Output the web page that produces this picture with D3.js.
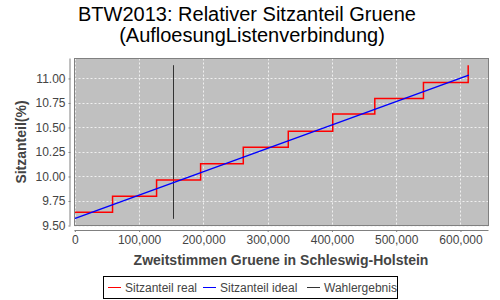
<!DOCTYPE html>
<html><head><meta charset="utf-8">
<script src="https://cdn.jsdelivr.net/npm/d3@7"></script>
<style>body{margin:0;background:#fff}svg{display:block}</style>
</head><body>
<script>
// Data
const realVotes = [-500, 58700, 127200, 195700, 262100, 332100, 401300, 466700, 542400, 612000];
const realShare = [9.636, 9.799, 9.965, 10.131, 10.298, 10.461, 10.637, 10.796, 10.959, 11.135];
const idealVotes = [-500, 613000];
const idealShare = [9.570, 11.034];
const resultVotes = [153100, 153100];
const resultShare = [9.568, 11.135];
const xTicks = [0, 100000, 200000, 300000, 400000, 500000, 600000];
const yTicks = [9.50, 9.75, 10.00, 10.25, 10.50, 10.75, 11.00];
const titleLines = ["BTW2013: Relativer Sitzanteil Gruene", "(AufloesungListenverbindung)"];
const legendItems = [
  {label: "Sitzanteil real", color: "#ff0000"},
  {label: "Sitzanteil ideal", color: "#0000ff"},
  {label: "Wahlergebnis", color: "#333333"}
];

const W = 500, H = 300;
const plot = {left: 74.5, right: 488.5, top: 58.5, bottom: 225.5};
const svg = d3.select("body").append("svg").attr("width", W).attr("height", H);
const font = "'Liberation Sans', Arial, sans-serif";

const x = d3.scaleLinear().domain([-500, 643600]).range([plot.left, plot.right]);
const y = d3.scaleLinear().domain([9.5, 11.2035]).range([plot.bottom, plot.top]);

// Title
svg.selectAll("text.title").data(titleLines).join("text")
  .attr("class", "title")
  .attr("x", (d, i) => i === 0 ? 247 : 252)
  .attr("y", (d, i) => i === 0 ? 21 : 42)
  .attr("text-anchor", "middle")
  .attr("font-family", font)
  .attr("font-size", 20)
  .attr("fill", "#000")
  .text(d => d);

// Plot background
svg.append("rect").attr("x", plot.left).attr("y", plot.top)
  .attr("width", plot.right - plot.left).attr("height", plot.bottom - plot.top)
  .attr("fill", "#c0c0c0");

// Gridlines
const grid = svg.append("g");
grid.selectAll("line.vx").data(xTicks).join("line")
  .attr("x1", d => Math.round(x(d)) + 0.5).attr("x2", d => Math.round(x(d)) + 0.5)
  .attr("y1", plot.top).attr("y2", plot.bottom)
  .attr("stroke", "#f0f0f0").attr("stroke-width", 1).attr("stroke-dasharray", "2,2");
grid.selectAll("line.hy").data(yTicks).join("line")
  .attr("y1", d => Math.round(y(d)) + 0.5).attr("y2", d => Math.round(y(d)) + 0.5)
  .attr("x1", plot.left).attr("x2", plot.right)
  .attr("stroke", "#f0f0f0").attr("stroke-width", 1).attr("stroke-dasharray", "2,2");

// Clip
svg.append("clipPath").attr("id", "clip").append("rect")
  .attr("x", plot.left).attr("y", plot.top)
  .attr("width", plot.right - plot.left).attr("height", plot.bottom - plot.top);
const g = svg.append("g").attr("clip-path", "url(#clip)");

// Series
const realData = realVotes.map((v, i) => [v, realShare[i]]);
const idealData = idealVotes.map((v, i) => [v, idealShare[i]]);
const resultData = resultVotes.map((v, i) => [v, resultShare[i]]);

g.append("path").datum(resultData)
  .attr("d", d3.line().x(d => Math.round(x(d[0])) + 0.5).y(d => y(d[1])))
  .attr("fill", "none").attr("stroke", "#333333").attr("stroke-width", 1);

g.append("path").datum(realData)
  .attr("d", d3.line().curve(d3.curveStepAfter).x(d => x(d[0])).y(d => y(d[1])))
  .attr("fill", "none").attr("stroke", "#ff0000").attr("stroke-width", 1.5);

g.append("path").datum(idealData)
  .attr("d", d3.line().x(d => x(d[0])).y(d => y(d[1])))
  .attr("fill", "none").attr("stroke", "#0000ff").attr("stroke-width", 1.5);

// Plot border
svg.append("rect").attr("x", plot.left).attr("y", plot.top)
  .attr("width", plot.right - plot.left).attr("height", plot.bottom - plot.top)
  .attr("fill", "none").attr("stroke", "#808080").attr("stroke-width", 1);

// Axes
const xAxis = d3.axisBottom(x).tickValues(xTicks).tickSize(2).tickPadding(3)
  .tickFormat(d3.format(",.0f"));
const gx = svg.append("g").attr("transform", `translate(0,${plot.bottom + 4.5})`).call(xAxis);
gx.select(".domain").attr("stroke", "#808080").attr("d", `M${plot.left},0.5H${plot.right}`);
gx.selectAll(".tick line").attr("stroke", "#808080");
gx.selectAll("text").attr("font-family", font).attr("font-size", 12).attr("fill", "#444");

const yAxis = d3.axisLeft(y).tickValues(yTicks).tickSize(2).tickPadding(3)
  .tickFormat(d3.format(".2f"));
const gy = svg.append("g").attr("transform", `translate(${plot.left - 4},0)`).call(yAxis);
gy.select(".domain").attr("stroke", "#808080").attr("d", `M-0.5,${plot.top}V${plot.bottom}`);
gy.selectAll(".tick line").attr("stroke", "#808080");
gy.selectAll("text").attr("font-family", font).attr("font-size", 12).attr("fill", "#444");

// Axis titles
svg.append("text").attr("x", 281).attr("y", 265).attr("text-anchor", "middle")
  .attr("font-family", font).attr("font-weight", "bold").attr("font-size", 14).attr("fill", "#444")
  .text("Zweitstimmen Gruene in Schleswig-Holstein");
svg.append("text").attr("transform", "translate(26,142) rotate(-90)").attr("text-anchor", "middle")
  .attr("font-family", font).attr("font-weight", "bold").attr("font-size", 14).attr("fill", "#444")
  .text("Sitzanteil(%)");

// Legend
const lg = svg.append("g");
lg.append("rect").attr("x", 103.5).attr("y", 276.5).attr("width", 294).attr("height", 22)
  .attr("fill", "#fff").attr("stroke", "#000").attr("stroke-width", 1);
const legendX = [108, 203, 307];
legendItems.forEach((it, i) => {
  lg.append("line").attr("x1", legendX[i]).attr("x2", legendX[i] + 13)
    .attr("y1", 287.5).attr("y2", 287.5).attr("stroke", it.color).attr("stroke-width", 1);
  lg.append("text").attr("x", legendX[i] + 17).attr("y", 292)
    .attr("font-family", font).attr("font-size", 12).attr("fill", "#444").text(it.label);
});
</script>
</body></html>
